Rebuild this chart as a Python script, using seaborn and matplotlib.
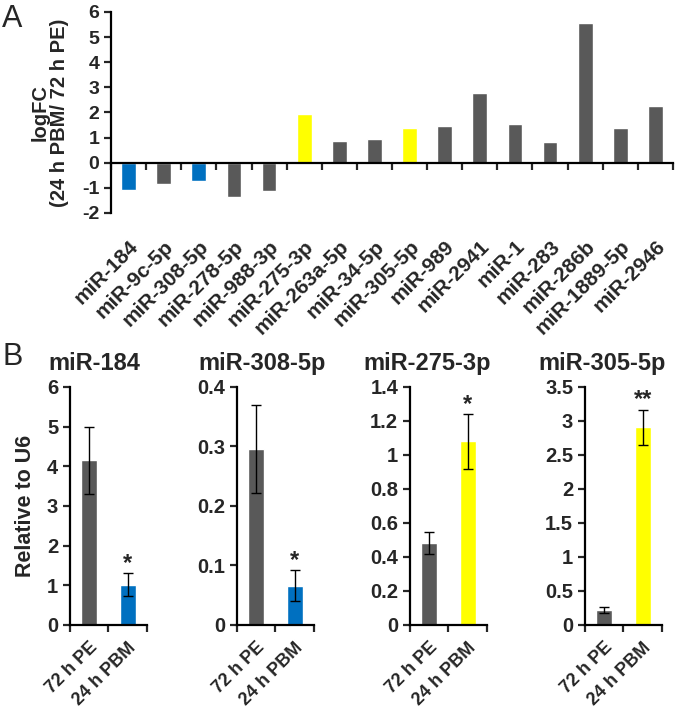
import matplotlib
matplotlib.use("Agg")
import matplotlib.pyplot as plt
import seaborn as sns
import pandas as pd

GRAY = "#595959"
BLUE = "#0070C0"
YELLOW = "#FFFF00"

# Panel A: small RNA-seq fold changes
mirnas = ["miR-184", "miR-9c-5p", "miR-308-5p", "miR-278-5p", "miR-988-3p",
          "miR-275-3p", "miR-263a-5p", "miR-34-5p", "miR-305-5p", "miR-989",
          "miR-2941", "miR-1", "miR-283", "miR-286b", "miR-1889-5p", "miR-2946"]
logfc = [-1.07, -0.85, -0.74, -1.36, -1.12, 1.94, 0.87, 0.96, 1.39, 1.48,
         2.76, 1.56, 0.82, 5.56, 1.39, 2.26]
groups = ["down", "other", "down", "other", "other", "up", "other", "other",
          "up", "other", "other", "other", "other", "other", "other", "other"]
group_colors = {"down": BLUE, "up": YELLOW, "other": GRAY}

# Panel B: qPCR validation
qpcr_names = ["miR-184", "miR-308-5p", "miR-275-3p", "miR-305-5p"]
conditions = ["72 h PE", "24 h PBM"]
pe_means = [4.15, 0.295, 0.48, 0.225]
pe_err = [0.85, 0.074, 0.065, 0.045]
pbm_means = [1.02, 0.066, 1.08, 2.905]
pbm_err = [0.28, 0.026, 0.16, 0.26]
pbm_colors = [BLUE, BLUE, YELLOW, YELLOW]
stars = ["*", "*", "*", "**"]
y_max = [6, 0.4, 1.4, 3.5]
y_step = [1, 0.1, 0.2, 0.5]

sns.set_style("ticks")
plt.rcParams["font.family"] = ["Liberation Sans", "DejaVu Sans"]
plt.rcParams["font.weight"] = "bold"
plt.rcParams["axes.linewidth"] = 1.6
plt.rcParams["axes.unicode_minus"] = False

fig = plt.figure(figsize=(6.77, 7.09), dpi=100)


def style_spines(ax):
    sns.despine(ax=ax)
    for side in ["left", "bottom"]:
        ax.spines[side].set_linewidth(1.6)
        ax.spines[side].set_color("black")


# ---- Panel A ----
ax_a = fig.add_axes([0.164, 0.6996, 0.830, 0.2835])
data_a = pd.DataFrame({"mirna": mirnas, "logfc": logfc, "group": groups})
sns.barplot(data=data_a, x="mirna", y="logfc", hue="group", palette=group_colors,
            dodge=False, width=0.42, legend=False, ax=ax_a, saturation=1)
ax_a.set_xlim(-0.5, len(mirnas) - 0.5)
ax_a.set_ylim(-2, 6)
ax_a.set_yticks(range(-2, 7))
style_spines(ax_a)
ax_a.spines["bottom"].set_position(("data", 0))
ax_a.set_xticks([i - 0.5 for i in range(len(mirnas) + 1)])
ax_a.set_xticklabels([])
ax_a.tick_params(axis="x", direction="out", length=5, width=1.6)
ax_a.tick_params(axis="y", direction="out", length=5, width=1.6, labelsize=14)
ax_a.set_xlabel("")
ax_a.set_ylabel("logFC\n(24 h PBM/ 72 h PE)", fontsize=14.5, fontweight="bold",
                labelpad=9, linespacing=1.05)

sec = ax_a.secondary_xaxis("bottom")
sec.set_xticks(range(len(mirnas)))
sec.set_xticklabels(mirnas, rotation=45, ha="right", rotation_mode="anchor",
                    fontsize=15, fontweight="bold")
sec.tick_params(axis="x", length=0, pad=17, labelsize=15)
sec.spines["bottom"].set_visible(False)

fig.text(0.003, 0.995, "A", fontsize=22, va="top", ha="left", fontweight="normal")

# ---- Panel B ----
lefts = [0.1034, 0.350, 0.6056, 0.8641]
title_x = [0.31, 0.32, 0.22, 0.22]
for i, name in enumerate(qpcr_names):
    ax = fig.add_axes([lefts[i], 0.1185, 0.1137, 0.3357])
    data_b = pd.DataFrame({"cond": conditions,
                           "value": [pe_means[i], pbm_means[i]]})
    sns.barplot(data=data_b, x="cond", y="value", hue="cond",
                palette=[GRAY, pbm_colors[i]], width=0.42, legend=False,
                ax=ax, saturation=1)
    means = [pe_means[i], pbm_means[i]]
    errs = [pe_err[i], pbm_err[i]]
    ax.errorbar(x=[0, 1], y=means, yerr=errs, fmt="none", ecolor="black",
                elinewidth=1, capsize=3.5, capthick=1)
    ax.annotate(stars[i], xy=(1, means[1] + errs[1]), xytext=(0, -1),
                textcoords="offset points", ha="center", va="bottom",
                fontsize=17, fontweight="bold")
    ax.set_xlim(-0.5, 1.5)
    ax.set_ylim(0, y_max[i])
    n_ticks = int(round(y_max[i] / y_step[i]))
    yt = [round(k * y_step[i], 2) for k in range(n_ticks + 1)]
    ax.set_yticks(yt)
    ax.set_yticklabels([f"{v:g}" for v in yt], fontsize=14.5, fontweight="bold")
    ax.set_xticks([0, 1])
    ax.set_xticklabels(conditions, rotation=45, ha="right",
                       rotation_mode="anchor", fontsize=13, fontweight="bold")
    ax.set_xticks([-0.5, 0.5, 1.5], minor=True)
    ax.tick_params(axis="x", which="major", length=0, pad=10)
    ax.tick_params(axis="x", which="minor", direction="out", length=5, width=1.6)
    ax.tick_params(axis="y", direction="out", length=5, width=1.6)
    style_spines(ax)
    ax.set_xlabel("")
    ax.set_ylabel("Relative to U6" if i == 0 else "", fontsize=15.5,
                  fontweight="bold", labelpad=8)
    ax.set_title(name, x=title_x[i], fontsize=17, fontweight="bold", pad=12)

fig.text(0.003, 0.517, "B", fontsize=22, va="top", ha="left", fontweight="normal")

fig.savefig("out.png", dpi=100)
